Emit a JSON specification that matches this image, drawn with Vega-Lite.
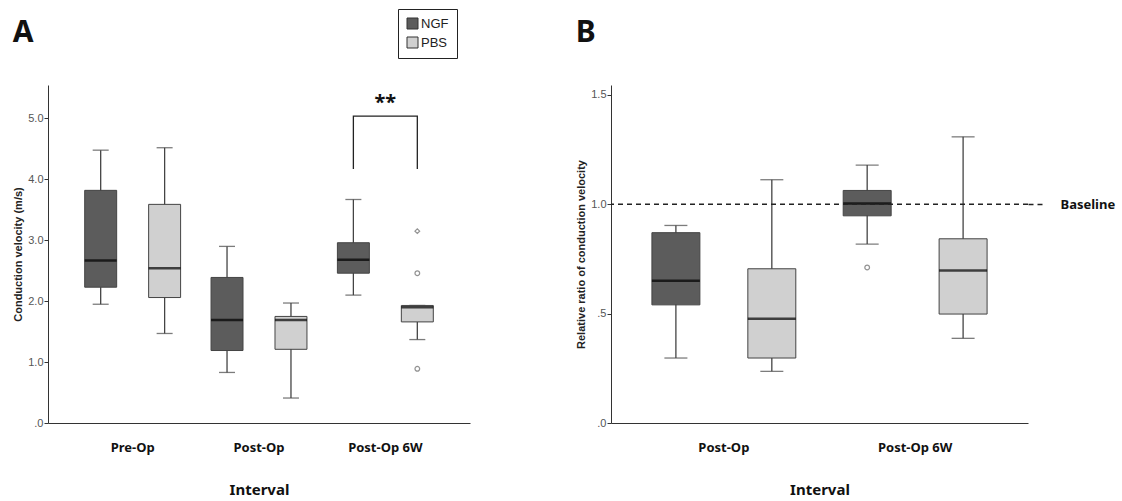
{
  "$schema": "https://vega.github.io/schema/vega-lite/v6.json",
  "padding": {"left": 12, "top": 8, "right": 5, "bottom": 0},
  "background": "white",
  "spacing": 105,
  "resolve": {"scale": {"xOffset": "independent", "x": "independent", "y": "independent"}},
  "datasets": {
    "statsA": [
      {"interval": "Pre-Op", "group": "NGF", "lower": 1.95, "q1": 2.23, "median": 2.67, "q3": 3.82, "upper": 4.48},
      {"interval": "Pre-Op", "group": "PBS", "lower": 1.47, "q1": 2.06, "median": 2.54, "q3": 3.59, "upper": 4.52},
      {"interval": "Post-Op", "group": "NGF", "lower": 0.83, "q1": 1.19, "median": 1.69, "q3": 2.39, "upper": 2.90},
      {"interval": "Post-Op", "group": "PBS", "lower": 0.41, "q1": 1.21, "median": 1.69, "q3": 1.75, "upper": 1.97},
      {"interval": "Post-Op 6W", "group": "NGF", "lower": 2.10, "q1": 2.46, "median": 2.68, "q3": 2.96, "upper": 3.67},
      {"interval": "Post-Op 6W", "group": "PBS", "lower": 1.37, "q1": 1.66, "median": 1.90, "q3": 1.93, "upper": 1.93}
    ],
    "outA": [
      {"interval": "Post-Op 6W", "group": "PBS", "value": 3.15, "kind": "extreme"},
      {"interval": "Post-Op 6W", "group": "PBS", "value": 2.46, "kind": "outlier"},
      {"interval": "Post-Op 6W", "group": "PBS", "value": 0.89, "kind": "outlier"}
    ],
    "bracketA": [
      {"interval": "Post-Op 6W", "group": "NGF", "value": 4.17, "order": 1},
      {"interval": "Post-Op 6W", "group": "NGF", "value": 5.04, "order": 2},
      {"interval": "Post-Op 6W", "group": "PBS", "value": 5.04, "order": 3},
      {"interval": "Post-Op 6W", "group": "PBS", "value": 4.17, "order": 4}
    ],
    "starA": [
      {"interval": "Post-Op 6W", "value": 5.04, "label": "**"}
    ],
    "statsB": [
      {"interval": "Post-Op", "group": "NGF", "lower": 0.297, "q1": 0.540, "median": 0.650, "q3": 0.870, "upper": 0.903},
      {"interval": "Post-Op", "group": "PBS", "lower": 0.236, "q1": 0.297, "median": 0.477, "q3": 0.705, "upper": 1.112},
      {"interval": "Post-Op 6W", "group": "NGF", "lower": 0.818, "q1": 0.947, "median": 1.003, "q3": 1.063, "upper": 1.179},
      {"interval": "Post-Op 6W", "group": "PBS", "lower": 0.387, "q1": 0.498, "median": 0.697, "q3": 0.842, "upper": 1.308}
    ],
    "outB": [
      {"interval": "Post-Op 6W", "group": "NGF", "value": 0.711, "kind": "outlier"}
    ],
    "baseB": [
      {"value": 1.0, "label": "Baseline"}
    ]
  },
  "config": {
    "view": {"stroke": null},
    "axisLeft": {
      "domainColor": "#333", "tickColor": "#333", "tickSize": 4, "grid": false,
      "labelFont": "Liberation Sans", "labelFontSize": 11, "labelColor": "#555", "labelPadding": 1,
      "titleFont": "Liberation Sans", "titleFontSize": 11, "titleFontWeight": "bold", "titleColor": "#222", "titlePadding": 4
    },
    "axisBottom": {
      "domainColor": "#333", "ticks": false, "grid": false,
      "labelFont": "Noto Sans", "labelFontSize": 13, "labelFontWeight": "bold", "labelColor": "#111", "labelPadding": 18, "labelAngle": 0,
      "titleFont": "Noto Sans", "titleFontSize": 15, "titleFontWeight": "bold", "titleColor": "#111", "titlePadding": 28
    },
    "title": {"font": "Noto Sans", "fontSize": 30, "fontWeight": "bold", "color": "#111", "anchor": "start", "frame": "bounds"},
    "legend": {
      "orient": "none", "title": null, "symbolType": "square", "symbolSize": 121, "symbolStrokeColor": "#333", "symbolStrokeWidth": 1,
      "labelFont": "Liberation Sans", "labelFontSize": 13, "labelColor": "#222", "labelOffset": 2,
      "padding": 8, "strokeColor": "#222", "rowPadding": 4, "fillColor": "white"
    }
  },
  "hconcat": [
    {
      "title": {"text": "A", "offset": 37},
      "width": 422,
      "height": 338,
      "encoding": {
        "x": {"field": "interval", "type": "nominal", "sort": ["Pre-Op", "Post-Op", "Post-Op 6W"], "scale": {"paddingInner": 0, "paddingOuter": 0.17}, "title": "Interval"}
      },
      "layer": [
        {
          "data": {"name": "statsA"},
          "mark": {"type": "rule", "color": "#444", "strokeWidth": 1.3},
          "encoding": {
            "xOffset": {"field": "group", "type": "nominal", "sort": ["NGF", "PBS"], "scale": {"paddingInner": 0.5, "paddingOuter": 0.238}},
            "y": {"field": "lower", "type": "quantitative", "scale": {"domain": [0, 5.55], "nice": false}, "axis": {"title": "Conduction velocity (m/s)", "values": [0, 1, 2, 3, 4, 5], "labelExpr": "datum.value < 1 ? substring(format(datum.value, '.1f'), 1) : format(datum.value, '.1f')"}},
            "y2": {"field": "upper"}
          }
        },
        {
          "data": {"name": "statsA"},
          "mark": {"type": "tick", "color": "#444", "thickness": 1.3, "size": 16},
          "encoding": {
            "xOffset": {"field": "group", "type": "nominal", "sort": ["NGF", "PBS"], "scale": {"paddingInner": 0.5, "paddingOuter": 0.238}},
            "y": {"field": "lower", "type": "quantitative", "scale": {"domain": [0, 5.55], "nice": false}, "axis": {"title": "Conduction velocity (m/s)"}}
          }
        },
        {
          "data": {"name": "statsA"},
          "mark": {"type": "tick", "color": "#444", "thickness": 1.3, "size": 16},
          "encoding": {
            "xOffset": {"field": "group", "type": "nominal", "sort": ["NGF", "PBS"], "scale": {"paddingInner": 0.5, "paddingOuter": 0.238}},
            "y": {"field": "upper", "type": "quantitative", "scale": {"domain": [0, 5.55], "nice": false}, "axis": {"title": "Conduction velocity (m/s)"}}
          }
        },
        {
          "data": {"name": "statsA"},
          "mark": {"type": "bar", "stroke": "#444", "strokeWidth": 1},
          "encoding": {
            "xOffset": {"field": "group", "type": "nominal", "sort": ["NGF", "PBS"], "scale": {"paddingInner": 0.5, "paddingOuter": 0.238}},
            "y": {"field": "q1", "type": "quantitative", "scale": {"domain": [0, 5.55], "nice": false}, "axis": {"title": "Conduction velocity (m/s)"}},
            "y2": {"field": "q3"},
            "fill": {"field": "group", "type": "nominal", "scale": {"domain": ["NGF", "PBS"], "range": ["#5c5c5c", "#d0d0d0"]}, "legend": {"legendX": 350, "legendY": -76}}
          }
        },
        {
          "data": {"name": "statsA"},
          "mark": {"type": "tick", "color": "#000", "thickness": 2.5, "size": 32},
          "encoding": {
            "xOffset": {"field": "group", "type": "nominal", "sort": ["NGF", "PBS"], "scale": {"paddingInner": 0.5, "paddingOuter": 0.238}},
            "y": {"field": "median", "type": "quantitative", "scale": {"domain": [0, 5.55], "nice": false}, "axis": {"title": "Conduction velocity (m/s)"}}
          }
        },
        {
          "data": {"name": "outA"},
          "mark": {"type": "point", "filled": false, "stroke": "#666", "strokeWidth": 1.2, "size": 22},
          "encoding": {
            "xOffset": {"field": "group", "type": "nominal", "sort": ["NGF", "PBS"], "scale": {"paddingInner": 0.5, "paddingOuter": 0.238}},
            "y": {"field": "value", "type": "quantitative", "scale": {"domain": [0, 5.55], "nice": false}, "axis": {"title": "Conduction velocity (m/s)"}},
            "shape": {"field": "kind", "type": "nominal", "scale": {"domain": ["outlier", "extreme"], "range": ["circle", "diamond"]}, "legend": null}
          }
        },
        {
          "data": {"name": "bracketA"},
          "mark": {"type": "line", "color": "#222", "strokeWidth": 1.3},
          "encoding": {
            "xOffset": {"field": "group", "type": "nominal", "sort": ["NGF", "PBS"], "scale": {"paddingInner": 0.5, "paddingOuter": 0.238}},
            "y": {"field": "value", "type": "quantitative", "scale": {"domain": [0, 5.55], "nice": false}, "axis": {"title": "Conduction velocity (m/s)"}},
            "order": {"field": "order", "type": "quantitative"}
          }
        },
        {
          "data": {"name": "starA"},
          "mark": {"type": "text", "font": "Noto Sans", "fontSize": 20, "fontWeight": "bold", "color": "#111", "dy": -3, "baseline": "bottom"},
          "encoding": {
            "y": {"field": "value", "type": "quantitative", "scale": {"domain": [0, 5.55], "nice": false}, "axis": {"title": "Conduction velocity (m/s)"}},
            "text": {"field": "label"}
          }
        }
      ]
    },
    {
      "title": {"text": "B", "offset": 37},
      "width": 417,
      "height": 338,
      "resolve": {"axis": {"y": "independent"}},
      "layer": [
        {
          "encoding": {
            "x": {"field": "interval", "type": "nominal", "sort": ["Post-Op", "Post-Op 6W"], "scale": {"paddingInner": 0, "paddingOuter": 0.09}, "title": "Interval"},
            "xOffset": {"field": "group", "type": "nominal", "sort": ["NGF", "PBS"], "scale": {"paddingInner": 0.5, "paddingOuter": 0.247}}
          },
          "layer": [
            {
              "data": {"name": "statsB"},
              "mark": {"type": "rule", "color": "#444", "strokeWidth": 1.3},
              "encoding": {
                "y": {"field": "lower", "type": "quantitative", "scale": {"domain": [0, 1.545], "nice": false}, "axis": {"title": "Relative ratio of conduction velocity", "values": [0, 0.5, 1, 1.5], "labelExpr": "datum.value < 1 ? substring(format(datum.value, '.1f'), 1) : format(datum.value, '.1f')"}},
                "y2": {"field": "upper"}
              }
            },
            {
              "data": {"name": "statsB"},
              "mark": {"type": "tick", "color": "#444", "thickness": 1.3, "size": 23},
              "encoding": {
                "y": {"field": "lower", "type": "quantitative", "scale": {"domain": [0, 1.545], "nice": false}, "axis": {"title": "Relative ratio of conduction velocity"}}
              }
            },
            {
              "data": {"name": "statsB"},
              "mark": {"type": "tick", "color": "#444", "thickness": 1.3, "size": 23},
              "encoding": {
                "y": {"field": "upper", "type": "quantitative", "scale": {"domain": [0, 1.545], "nice": false}, "axis": {"title": "Relative ratio of conduction velocity"}}
              }
            },
            {
              "data": {"name": "statsB"},
              "mark": {"type": "bar", "stroke": "#444", "strokeWidth": 1},
              "encoding": {
                "y": {"field": "q1", "type": "quantitative", "scale": {"domain": [0, 1.545], "nice": false}, "axis": {"title": "Relative ratio of conduction velocity"}},
                "y2": {"field": "q3"},
                "fill": {"field": "group", "type": "nominal", "scale": {"domain": ["NGF", "PBS"], "range": ["#5c5c5c", "#d0d0d0"]}, "legend": {"legendX": 356, "legendY": -77}}
              }
            },
            {
              "data": {"name": "statsB"},
              "mark": {"type": "tick", "color": "#000", "thickness": 2.5, "size": 48},
              "encoding": {
                "y": {"field": "median", "type": "quantitative", "scale": {"domain": [0, 1.545], "nice": false}, "axis": {"title": "Relative ratio of conduction velocity"}}
              }
            },
            {
              "data": {"name": "outB"},
              "mark": {"type": "point", "shape": "circle", "filled": false, "stroke": "#666", "strokeWidth": 1.2, "size": 22},
              "encoding": {
                "y": {"field": "value", "type": "quantitative", "scale": {"domain": [0, 1.545], "nice": false}, "axis": {"title": "Relative ratio of conduction velocity"}}
              }
            }
          ]
        },
        {
          "data": {"name": "baseB"},
          "mark": {"type": "rule", "color": "#222", "strokeWidth": 1.3, "strokeDash": [5, 4]},
          "encoding": {
            "y": {"field": "value", "type": "quantitative", "scale": {"domain": [0, 1.545], "nice": false},
              "axis": {"orient": "right", "title": null, "values": [1], "labelExpr": "'Baseline'", "domain": false, "ticks": true, "tickSize": 17, "tickDash": [5, 4], "tickColor": "#222", "tickWidth": 1.3, "labelPadding": 15, "labelFont": "Noto Sans", "labelFontSize": 13, "labelFontWeight": "bold", "labelColor": "#111", "grid": false}}
          }
        }
      ]
    }
  ]
}
